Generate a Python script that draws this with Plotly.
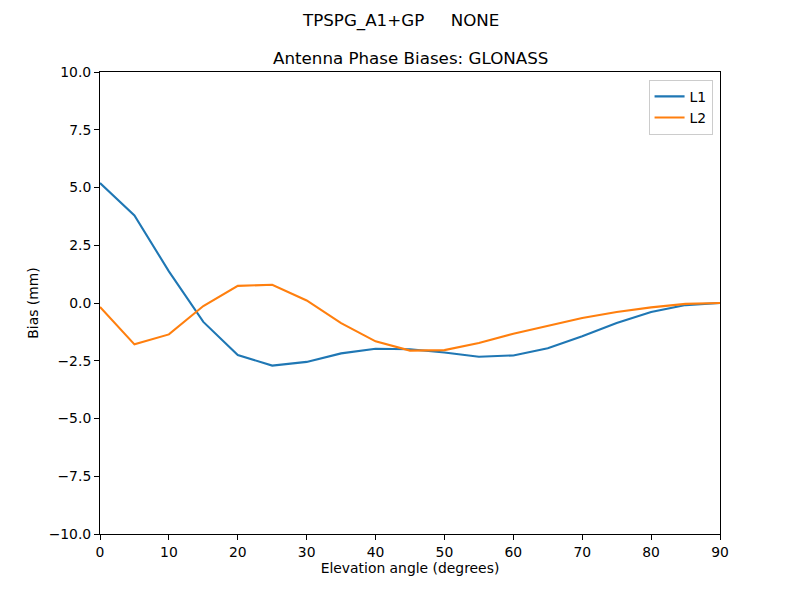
import plotly.graph_objects as go

elevation = [0, 5, 10, 15, 20, 25, 30, 35, 40, 45, 50, 55, 60, 65, 70, 75, 80, 85, 90]
l1_bias = [5.19, 3.79, 1.37, -0.82, -2.25, -2.71, -2.55, -2.18, -1.98, -2.0,
           -2.14, -2.33, -2.27, -1.96, -1.44, -0.87, -0.39, -0.09, 0.0]
l2_bias = [-0.17, -1.79, -1.36, -0.13, 0.74, 0.79, 0.11, -0.87, -1.66, -2.06,
           -2.04, -1.73, -1.33, -0.98, -0.65, -0.39, -0.19, -0.04, 0.0]
x_ticks = [0, 10, 20, 30, 40, 50, 60, 70, 80, 90]
y_ticks = [-10, -7.5, -5, -2.5, 0, 2.5, 5, 7.5, 10]
y_ticktext = [("\u2212" if v < 0 else "") + f"{abs(v):.1f}" for v in y_ticks]

font = "DejaVu Sans"
fs = 13.9
fig = go.Figure()
fig.add_trace(go.Scatter(x=elevation, y=l1_bias, mode="lines", name="L1",
                         line=dict(color="#1f77b4", width=2.1)))
fig.add_trace(go.Scatter(x=elevation, y=l2_bias, mode="lines", name="L2",
                         line=dict(color="#ff7f0e", width=2.1)))

axis_common = dict(showline=True, linecolor="black", linewidth=1, mirror=True,
                   ticks="outside", ticklen=5, tickcolor="black", showgrid=False,
                   zeroline=False, tickfont=dict(family=font, size=fs, color="black"))
fig.update_xaxes(range=[0, 90], tickvals=x_ticks, ticktext=[str(v) for v in x_ticks],
                 title=dict(text="Elevation angle (degrees)", font=dict(family=font, size=fs, color="black"), standoff=4),
                 **axis_common)
fig.update_yaxes(range=[-10, 10], tickvals=y_ticks, ticktext=y_ticktext,
                 title=dict(text="Bias (mm)", font=dict(family=font, size=fs, color="black"), standoff=6),
                 **axis_common)

# page has an 8px body margin; compensate so the axes land at x 100-720, y 72-534
ml, mr, mt, mb = 92, 88, 64, 74
plot_h = 600 - mt - mb
plot_w = 800 - ml - mr

fig.update_layout(
    width=800, height=600,
    margin=dict(l=ml, r=mr, t=mt, b=mb),
    paper_bgcolor="white", plot_bgcolor="white",
    font=dict(family=font, size=fs, color="black"),
    showlegend=True,
    legend=dict(x=0.988, y=0.983, xanchor="right", yanchor="top",
                bordercolor="#cccccc", borderwidth=1, bgcolor="rgba(255,255,255,0.8)",
                font=dict(family=font, size=fs, color="black"), tracegroupgap=0),
    annotations=[
        dict(text="TPSPG_A1+GP\u00a0\u00a0\u00a0\u00a0\u00a0NONE",
             x=(400 - 8 - ml) / plot_w, xanchor="center",
             y=1 + (mt - 12) / plot_h, yanchor="middle",
             xref="paper", yref="paper", showarrow=False,
             font=dict(family=font, size=16.7, color="black")),
        dict(text="Antenna Phase Biases: GLONASS", x=0.5, xanchor="center",
             y=1 + (mt - 50) / plot_h, yanchor="middle",
             xref="paper", yref="paper", showarrow=False,
             font=dict(family=font, size=16.7, color="black")),
    ],
)

fig.write_html("out.html")
